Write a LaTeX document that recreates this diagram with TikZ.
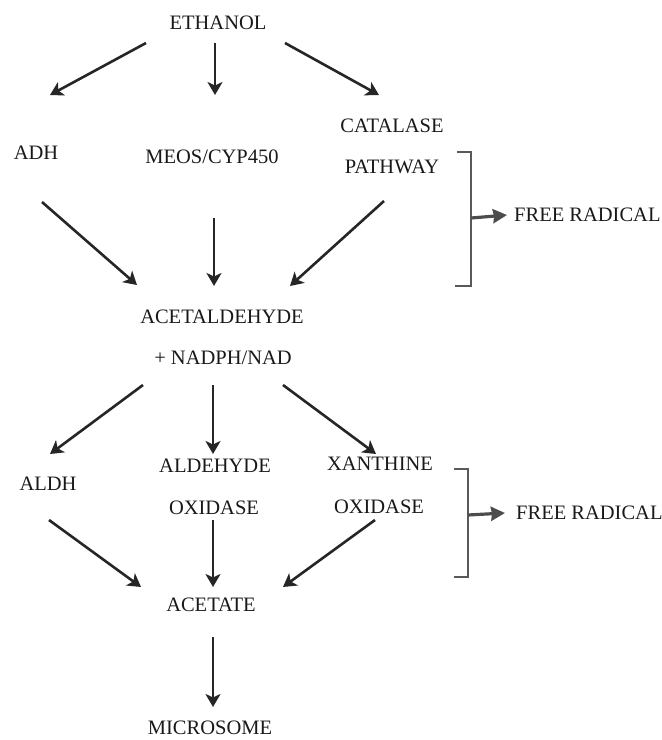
\documentclass[tikz,border=0pt]{standalone}
\usepackage{fontspec}
\setmainfont{Liberation Serif}
\usetikzlibrary{arrows.meta}

\tikzset{
  lbl/.style={inner sep=0pt, text height=13pt, text depth=0pt, text=black!90,
              font=\fontsize{20.5pt}{24pt}\selectfont},
  flow/.style={-{Stealth[length=13pt, width=15pt, inset=3.5pt]}, line width=2.6pt, black!85},
  brack/.style={line width=2.2pt, black!65},
  fr/.style={-{Stealth[length=14pt, width=14pt, inset=1pt]}, line width=3.2pt, black!70}
}

\begin{document}
\begin{tikzpicture}[x=1pt, y=-1pt]
\useasboundingbox (0,0) rectangle (662,740);

\node[lbl] (ETH)  at (218,23)  {ETHANOL};
\node[lbl] (ADH)  at (36,153)  {ADH};
\node[lbl] (MEOS) at (212,157) {MEOS/CYP450};
\node[lbl] (CAT)  at (392,126) {CATALASE};
\node[lbl] (PATH) at (392,167) {PATHWAY};
\node[lbl, anchor=west] (FRA) at (514,215) {FREE RADICAL};

\node[lbl] (ACD)  at (222,317) {ACETALDEHYDE};
\node[lbl] (NAD)  at (223,358) {+ NADPH/NAD};

\node[lbl] (ALDH) at (48,484)  {ALDH};
\node[lbl] (ALDE) at (215,466) {ALDEHYDE};
\node[lbl] (OXA)  at (214,508) {OXIDASE};
\node[lbl] (XAN)  at (380,464) {XANTHINE};
\node[lbl] (OXB)  at (379,507) {OXIDASE};
\node[lbl, anchor=west] (FRB) at (516,513) {FREE RADICAL};

\node[lbl] (ACE)  at (211,605) {ACETATE};
\node[lbl] (MIC)  at (210,728) {MICROSOME};

\draw[flow] ([shift={(-72,20)}]ETH.center) -- ([shift={(14,-58)}]ADH.center);
\draw[flow] ([shift={(-3,20)}]ETH.center)  -- ([shift={(3,-62)}]MEOS.center);
\draw[flow] ([shift={(67,20)}]ETH.center)  -- ([shift={(-13,-31)}]CAT.center);

\draw[flow] ([shift={(6,49)}]ADH.center)   -- ([shift={(-85,-32)}]ACD.center);
\draw[flow] ([shift={(2,61)}]MEOS.center)  -- ([shift={(-8,-31)}]ACD.center);
\draw[flow] ([shift={(-8,34)}]PATH.center) -- ([shift={(68,-31)}]ACD.center);

\draw[flow] ([shift={(-80,27)}]NAD.center) -- ([shift={(2,-30)}]ALDH.center);
\draw[flow] ([shift={(-10,27)}]NAD.center) -- ([shift={(-2,-12)}]ALDE.center);
\draw[flow] ([shift={(60,27)}]NAD.center)  -- ([shift={(-4,-10)}]XAN.center);

\draw[flow] ([shift={(1,36)}]ALDH.center)  -- ([shift={(-70,-18)}]ACE.center);
\draw[flow] ([shift={(-1,12)}]OXA.center)  -- ([shift={(2,-18)}]ACE.center);
\draw[flow] ([shift={(-4,13)}]OXB.center)  -- ([shift={(72,-18)}]ACE.center);

\draw[flow] ([shift={(2,32)}]ACE.center)   -- ([shift={(3,-21)}]MIC.center);

% brackets to the free radical labels
\draw[brack] (457,152) -- (471,152) -- (471,286) -- (455,286);
\coordinate (BA) at (471,218);
\draw[fr] (BA) -- ([xshift=-7pt]FRA.west);

\draw[brack] (454,469) -- (468,469) -- (468,577) -- (454,577);
\coordinate (BB) at (468,515);
\draw[fr] (BB) -- ([xshift=-11pt]FRB.west);

\end{tikzpicture}
\end{document}
